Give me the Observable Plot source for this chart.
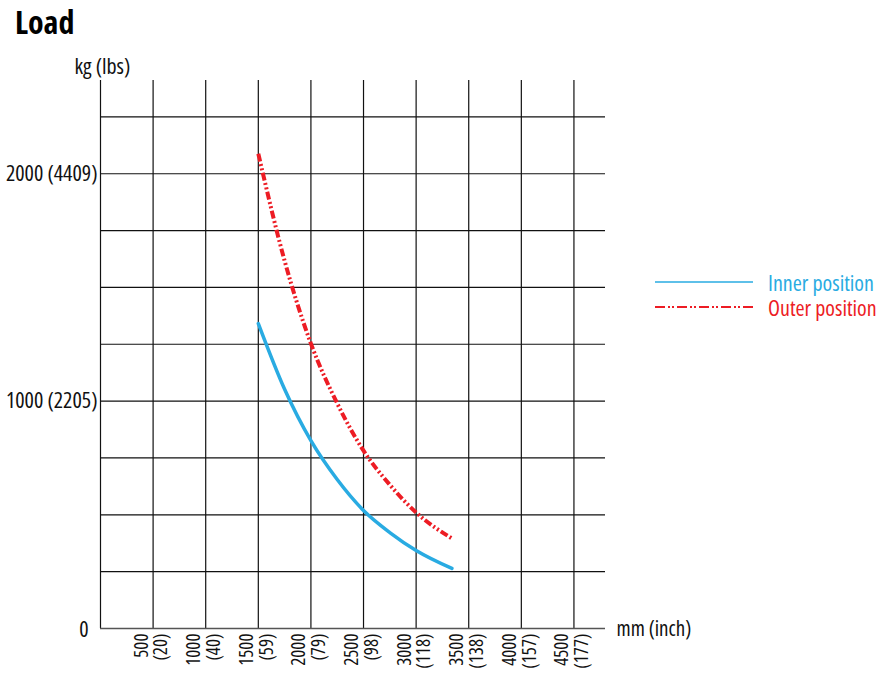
<!DOCTYPE html>
<html>
<head>
<meta charset="utf-8">
<script src="https://cdn.jsdelivr.net/npm/d3@7"></script>
<script src="https://cdn.jsdelivr.net/npm/@observablehq/plot@0.6"></script>
<style>
  html, body { margin: 0; padding: 0; background: #fff; }
  #wrap { position: relative; width: 880px; height: 680px; overflow: hidden; }
  #title { position: absolute; left: 15px; top: 0px; font-family: "Open Sans", sans-serif; font-stretch: condensed; font-weight: bold; font-size: 32px; color: #000; }
  #legend { position: absolute; left: 655px; top: 269px; font-family: "Open Sans", sans-serif; font-stretch: condensed; font-size: 22px; white-space: nowrap; }
  .item { display: flex; align-items: center; height: 25px; }
  .item span { line-height: 22px; display: inline-block; }
  .item svg { margin-right: 15px; }
</style>
</head>
<body>
<div id="wrap">
  <div id="chart"></div>
  <div id="title">Load</div>
  <div id="legend"></div>
</div>
<script>
// ---- data ----
const xTicks = [500, 1000, 1500, 2000, 2500, 3000, 3500, 4000, 4500];
const xTickInch = [20, 40, 59, 79, 98, 118, 138, 157, 177];
const yGrid = [250, 500, 750, 1000, 1250, 1500, 1750, 2000, 2250];
const yTickVals = [1000, 2000];
const yTickLbs = [2205, 4409];
const seriesNames = ["Inner position", "Outer position"];
const seriesColors = ["#29abe2", "#ed1c24"];
const innerX = [1500, 1750, 2000, 2250, 2500, 2750, 3000, 3340];
const innerY = [1341, 1052, 826, 655, 519, 422, 343, 264];
const outerX = [1500, 1750, 2000, 2250, 2500, 2750, 3000, 3340];
const outerY = [2088, 1617, 1253, 990, 782, 632, 510, 396];

const inner = innerX.map((x, i) => ({x, y: innerY[i]}));
const outer = outerX.map((x, i) => ({x, y: outerY[i]}));
const xLab = xTicks.map((v, i) => ({v, t: `${v}\n(${xTickInch[i]})`}));
const yLab = yTickVals.map((v, i) => ({v, t: `${v} (${yTickLbs[i]})`}));

const FONT = '"Open Sans", sans-serif';
const outerDash = "8,2.5,2,2.5,2,2.5";

const chart = Plot.plot({
  width: 880,
  height: 680,
  marginLeft: 100,
  marginRight: 275,
  marginTop: 80,
  marginBottom: 52,
  style: {fontFamily: FONT, fontStretch: "condensed", background: "#fff", overflow: "visible"},
  x: {domain: [0, 4800], axis: null},
  y: {domain: [0, 2410], axis: null},
  marks: [
    Plot.ruleY(yGrid, {x1: 0, x2: 4800, stroke: "#111", strokeWidth: 1.2}),
    Plot.ruleX([0, ...xTicks], {y1: 0, y2: 2410, stroke: "#111", strokeWidth: 1.2}),
    Plot.ruleY([0], {x1: 0, x2: 4800, stroke: "#555", strokeWidth: 1.6}),
    Plot.line(inner, {x: "x", y: "y", curve: "monotone-x", stroke: seriesColors[0], strokeWidth: 3.5}),
    Plot.line(outer, {x: "x", y: "y", curve: "monotone-x", stroke: seriesColors[1], strokeWidth: 4, strokeDasharray: outerDash, strokeLinecap: "butt"}),
    Plot.text(xLab, {x: "v", y: 0, text: "t", rotate: -90, textAnchor: "end", lineAnchor: "middle", lineHeight: 1.05, dy: 5, dx: -2, fontSize: 19, fill: "#111"}),
    Plot.text(yLab, {x: 0, y: "v", text: "t", textAnchor: "end", dx: -3, fontSize: 22, fill: "#111"}),
    Plot.text(["0"], {x: 0, y: 0, text: d => d, textAnchor: "end", dx: -12, dy: 1, fontSize: 22, fill: "#111"}),
    Plot.text(["mm (inch)"], {x: 4800, y: 0, text: d => d, textAnchor: "start", dx: 11, dy: 1, fontSize: 21, fill: "#111"}),
    Plot.text(["kg (lbs)"], {frameAnchor: "top-left", text: d => d, textAnchor: "start", dx: -26, dy: -22, fontSize: 22, fill: "#111"})
  ]
});
document.getElementById("chart").appendChild(chart);

// legend
const legend = document.getElementById("legend");
seriesNames.forEach((name, i) => {
  const item = document.createElement("div");
  item.className = "item";
  const dash = i === 1 ? `stroke-dasharray="10,3,2,2,2,3"` : "";
  item.innerHTML = `<svg width="98" height="6"><line x1="0" x2="98" y1="3" y2="3" stroke="${seriesColors[i]}" stroke-width="${i === 1 ? 2 : 1.6}" ${dash}/></svg><span style="color:${seriesColors[i]}">${name}</span>`;
  legend.appendChild(item);
});
</script>
</body>
</html>
